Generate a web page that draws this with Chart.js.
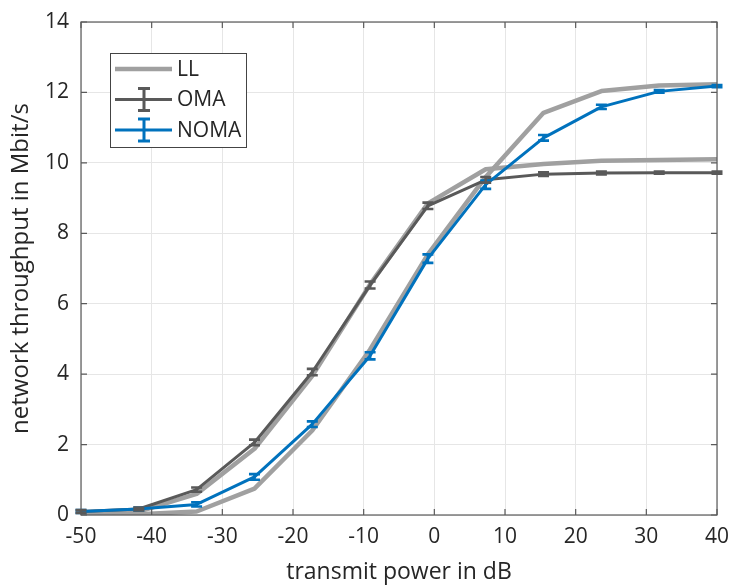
<!DOCTYPE html>
<html>
<head>
<meta charset="utf-8">
<script src="https://cdn.jsdelivr.net/npm/chart.js@4.4.1/dist/chart.umd.min.js"></script>
<style>
  html, body { margin: 0; padding: 0; background: #fff; }
  #wrap { width: 732px; height: 588px; }
</style>
</head>
<body>
<div id="wrap"><canvas id="chart" width="732" height="588"></canvas></div>
<script>
"use strict";

// transmit power samples (dB)
var powerDb = [-50, -41.82, -33.64, -25.45, -17.27, -9.09, -0.91, 7.27, 15.45, 23.64, 31.82, 40];

// network throughput (Mbit/s)
var omaThroughput  = [0.10, 0.17, 0.72, 2.06, 4.06, 6.53, 8.78, 9.52, 9.68, 9.71, 9.72, 9.72];
var omaErr         = [0.04, 0.04, 0.06, 0.08, 0.09, 0.10, 0.09, 0.08, 0.05, 0.04, 0.03, 0.03];
var nomaThroughput = [0.10, 0.17, 0.30, 1.08, 2.58, 4.52, 7.28, 9.38, 10.71, 11.59, 12.03, 12.18];
var nomaErr        = [0.04, 0.04, 0.06, 0.08, 0.08, 0.10, 0.12, 0.12, 0.08, 0.06, 0.04, 0.03];
var llOma          = [0.05, 0.10, 0.60, 1.88, 3.95, 6.55, 8.85, 9.82, 9.97, 10.06, 10.08, 10.10];
var llNoma         = [0.00, 0.02, 0.10, 0.75, 2.40, 4.70, 7.40, 9.60, 11.42, 12.04, 12.20, 12.23];

var seriesNames = ["LL", "OMA", "NOMA"];
var xTicks = [-50, -40, -30, -20, -10, 0, 10, 20, 30, 40];
var yTicks = [0, 2, 4, 6, 8, 10, 12, 14];

var colLL = "#a0a0a0";
var colOMA = "#595959";
var colNOMA = "#0072bd";
var textCol = "#262626";
var fontFamily = "'Open Sans', 'Noto Sans', sans-serif";

function toPoints(ys) {
  return powerDb.map(function(x, i) { return { x: x, y: ys[i] }; });
}

// error bars, drawn through the chart scales
var errorBars = {
  id: "errorBars",
  afterDatasetsDraw: function(chart) {
    var ctx = chart.ctx;
    var xs = chart.scales.x, ys = chart.scales.y;
    chart.data.datasets.forEach(function(ds) {
      if (!ds.errors) return;
      ctx.save();
      ctx.strokeStyle = ds.borderColor;
      ctx.lineWidth = 2.6;
      ds.data.forEach(function(p, j) {
        var e = ds.errors[j];
        var px = xs.getPixelForValue(p.x);
        var top = ys.getPixelForValue(p.y + e);
        var bot = ys.getPixelForValue(p.y - e);
        ctx.beginPath();
        ctx.moveTo(px, top); ctx.lineTo(px, bot);
        ctx.moveTo(px - 5.5, top); ctx.lineTo(px + 5.5, top);
        ctx.moveTo(px - 5.5, bot); ctx.lineTo(px + 5.5, bot);
        ctx.stroke();
      });
      ctx.restore();
    });
  }
};

// MATLAB style frame with inward ticks plus the boxed legend
var frameAndLegend = {
  id: "frameAndLegend",
  afterDraw: function(chart) {
    var ctx = chart.ctx;
    var a = chart.chartArea;
    var xs = chart.scales.x, ys = chart.scales.y;
    ctx.save();
    ctx.strokeStyle = "#5a5a5a";
    ctx.lineWidth = 1.2;
    ctx.strokeRect(a.left, a.top, a.right - a.left, a.bottom - a.top);
    ctx.beginPath();
    xTicks.forEach(function(t) {
      var px = xs.getPixelForValue(t);
      ctx.moveTo(px, a.bottom); ctx.lineTo(px, a.bottom - 6);
      ctx.moveTo(px, a.top); ctx.lineTo(px, a.top + 6);
    });
    yTicks.forEach(function(t) {
      var py = ys.getPixelForValue(t);
      ctx.moveTo(a.left, py); ctx.lineTo(a.left + 6, py);
      ctx.moveTo(a.right, py); ctx.lineTo(a.right - 6, py);
    });
    ctx.stroke();

    // legend
    var lx = a.left + 29, ly = a.top + 31, lw = 136, lh = 94;
    ctx.fillStyle = "#fff";
    ctx.fillRect(lx, ly, lw, lh);
    ctx.strokeStyle = "#444";
    ctx.lineWidth = 1;
    ctx.strokeRect(lx + 0.5, ly + 0.5, lw, lh);
    var rows = [
      { name: seriesNames[0], color: colLL, width: 4.5, bar: false },
      { name: seriesNames[1], color: colOMA, width: 3, bar: true },
      { name: seriesNames[2], color: colNOMA, width: 3, bar: true }
    ];
    ctx.font = "21px " + fontFamily;
    ctx.textBaseline = "middle";
    rows.forEach(function(r, k) {
      var cy = ly + 16 + k * 30.5;
      ctx.strokeStyle = r.color;
      ctx.lineWidth = r.width;
      ctx.beginPath();
      ctx.moveTo(lx + 5, cy); ctx.lineTo(lx + 62, cy);
      if (r.bar) {
        var cx = lx + 34;
        ctx.moveTo(cx, cy - 11); ctx.lineTo(cx, cy + 11);
        ctx.moveTo(cx - 6, cy - 11); ctx.lineTo(cx + 6, cy - 11);
        ctx.moveTo(cx - 6, cy + 11); ctx.lineTo(cx + 6, cy + 11);
      }
      ctx.stroke();
      ctx.fillStyle = textCol;
      ctx.fillText(r.name, lx + 67, cy + 1);
    });
    ctx.restore();
  }
};

var chart = new Chart(document.getElementById("chart"), {
  type: "line",
  data: {
    datasets: [{
      label: "NOMA",
      data: toPoints(nomaThroughput),
      errors: nomaErr,
      borderColor: colNOMA,
      borderWidth: 3
    }, {
      label: "OMA",
      data: toPoints(omaThroughput),
      errors: omaErr,
      borderColor: colOMA,
      borderWidth: 3
    }, {
      label: "LL",
      data: toPoints(llOma),
      borderColor: colLL,
      borderWidth: 4.5
    }, {
      label: "LL",
      data: toPoints(llNoma),
      borderColor: colLL,
      borderWidth: 4.5
    }]
  },
  options: {
    responsive: false,
    animation: false,
    events: [],
    layout: { padding: { top: 22, right: 15, left: 0, bottom: 0 } },
    elements: {
      point: { radius: 0 },
      line: { tension: 0, borderJoinStyle: "round", borderCapStyle: "butt" }
    },
    plugins: {
      legend: { display: false },
      tooltip: { enabled: false }
    },
    scales: {
      x: {
        type: "linear",
        min: -50,
        max: 40,
        afterFit: function(s) { s.height = 73; s.paddingRight = 0; s.paddingLeft = 0; },
        afterBuildTicks: function(s) { s.ticks = xTicks.map(function(v) { return { value: v }; }); },
        grid: { color: "#e6e6e6", lineWidth: 1, drawTicks: false },
        border: { display: false },
        ticks: { padding: 9, color: textCol, font: { family: fontFamily, size: 21 } },
        title: {
          display: true,
          text: "transmit power in dB",
          color: textCol,
          padding: { top: 0, bottom: 2 },
          font: { family: fontFamily, size: 23 }
        }
      },
      y: {
        min: 0,
        max: 14,
        afterFit: function(s) { s.width = 81; s.paddingTop = 0; s.paddingBottom = 0; },
        afterBuildTicks: function(s) { s.ticks = yTicks.map(function(v) { return { value: v }; }); },
        grid: { color: "#e6e6e6", lineWidth: 1, drawTicks: false },
        border: { display: false },
        ticks: { padding: 12, color: textCol, font: { family: fontFamily, size: 21 } },
        title: {
          display: true,
          text: "network throughput in Mbit/s",
          color: textCol,
          padding: { top: 7, bottom: 0 },
          font: { family: fontFamily, size: 24 }
        }
      }
    }
  },
  plugins: [errorBars, frameAndLegend]
});
</script>
</body>
</html>
